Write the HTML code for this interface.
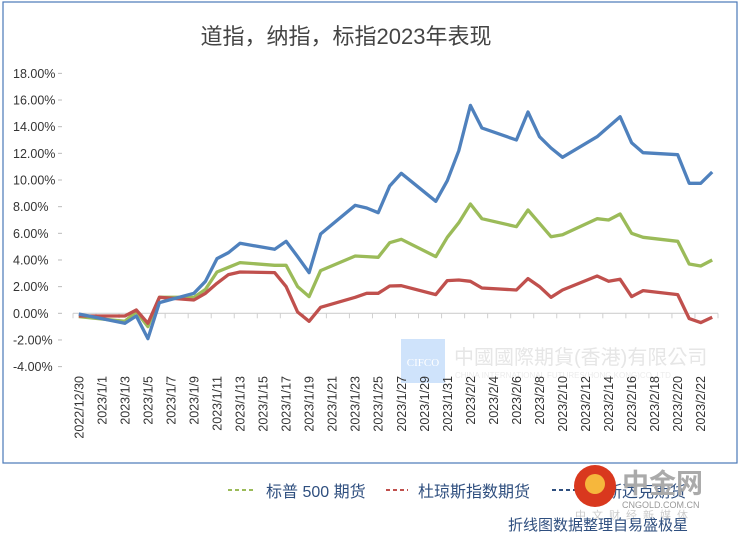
<!DOCTYPE html>
<html><head><meta charset="utf-8"><style>
body{margin:0;background:#fff;width:742px;height:536px;overflow:hidden;font-family:"Liberation Sans","Noto Sans CJK SC",sans-serif}
svg{display:block}
</style></head><body>
<svg id="c" width="742" height="536" xmlns="http://www.w3.org/2000/svg">
<rect x="3" y="2" width="734" height="461" fill="#fff" stroke="#4a78b8" stroke-width="1.2"/>
<text x="346" y="44" font-size="22" fill="#444" text-anchor="middle" font-family="Liberation Sans,Noto Sans CJK SC,sans-serif">道指，纳指，标指2023年表现</text>
<g>
<rect x="401" y="339" width="44" height="44" fill="#cfe3fb"/>
<text x="423" y="366" font-size="11" fill="#fff" text-anchor="middle" font-family="Liberation Serif,serif">CIFCO</text>
<text x="454" y="364" font-size="20" fill="#e6e6e6" font-family="Liberation Sans,Noto Sans CJK TC,sans-serif">中國國際期貨(香港)有限公司</text>
<text x="455" y="378" font-size="8" fill="#ececec">CHINA INTERNATIONAL FUTURES(HONG KONG)CO.,LTD.</text>
</g>
<g id="grid"></g><g id="lines"></g>
<g>
<line x1="228" y1="490" x2="256" y2="490" stroke="#9bbb59" stroke-width="2" stroke-dasharray="4,3"/>
<text x="266" y="497" font-size="16" fill="#2f4f7f">标普 500 期货</text>
<line x1="386" y1="490" x2="408" y2="490" stroke="#c0504d" stroke-width="2" stroke-dasharray="4,3"/>
<text x="418" y="497" font-size="16" fill="#2f4f7f">杜琼斯指数期货</text>
<line x1="552" y1="490" x2="580" y2="490" stroke="#2f4f7f" stroke-width="2" stroke-dasharray="4,3"/>
<text x="590" y="497" font-size="16" fill="#2f4f7f">纳斯达克期货</text>
</g>
<g>
<circle cx="595" cy="486" r="21" fill="#d9381e"/>
<circle cx="595" cy="484" r="10" fill="#f6b73c"/>
<text x="622" y="493" font-size="27" fill="#aaa" font-weight="bold">中金网</text>
<text x="622" y="508" font-size="9" fill="#999">CNGOLD.COM.CN</text>
<text x="575" y="519" font-size="11" fill="#ccc" letter-spacing="6">中文财经新媒体</text>
</g>
<text x="508" y="530" font-size="15" fill="#2f4f7f">折线图数据整理自易盛极星</text>
</svg>
<script>
const dateLabels=["2022/12/30","2023/1/1","2023/1/3","2023/1/5","2023/1/7","2023/1/9","2023/1/11","2023/1/13","2023/1/15","2023/1/17","2023/1/19","2023/1/21","2023/1/23","2023/1/25","2023/1/27","2023/1/29","2023/1/31","2023/2/2","2023/2/4","2023/2/6","2023/2/8","2023/2/10","2023/2/12","2023/2/14","2023/2/16","2023/2/18","2023/2/20","2023/2/22"];
const yTicks=[18,16,14,12,10,8,6,4,2,0,-2,-4];
const dayIdx=[0,4,5,6,7,10,11,12,13,14,17,18,19,20,21,24,25,26,27,28,31,32,33,34,35,38,39,40,41,42,45,46,47,48,49,52,53,54,55];
const nasdaq=[-0.05,-0.75,-0.2,-1.9,0.8,1.5,2.4,4.1,4.55,5.25,4.8,5.4,4.25,3.05,5.95,8.1,7.9,7.55,9.55,10.5,8.4,9.95,12.2,15.6,13.9,13.0,15.1,13.25,12.4,11.7,13.25,14.0,14.75,12.8,12.05,11.9,9.75,9.75,10.6];
const sp500=[-0.25,-0.6,0.12,-1.0,1.2,1.2,1.8,3.1,3.45,3.8,3.6,3.6,2.0,1.25,3.2,4.3,4.25,4.2,5.3,5.55,4.25,5.7,6.8,8.2,7.1,6.5,7.75,6.75,5.75,5.9,7.1,7.0,7.45,6.0,5.7,5.4,3.7,3.55,4.0];
const dow=[-0.2,-0.2,0.25,-0.75,1.2,1.0,1.5,2.25,2.9,3.1,3.05,2.0,0.1,-0.6,0.45,1.2,1.5,1.5,2.05,2.07,1.4,2.45,2.5,2.4,1.9,1.75,2.6,2.0,1.2,1.75,2.8,2.4,2.55,1.25,1.7,1.4,-0.4,-0.7,-0.3];
const NS="http://www.w3.org/2000/svg";
const X0=73,X1=718,ND=56,Y0=313.3,PPU=13.33;
const xs=d=>X0+(X1-X0)/ND*(d+0.5);
const ys=v=>Y0-v*PPU;
function mk(t,a,p){const e=document.createElementNS(NS,t);for(const k in a)e.setAttribute(k,a[k]);p.appendChild(e);return e;}
const g=document.getElementById('grid');
yTicks.forEach(v=>{
 const t=mk('text',{x:13,y:ys(v)+4.5,'font-size':12.5,fill:'#333'},g);
 t.textContent=v.toFixed(2)+'%';
 
 
 mk('line',{x1:58,x2:62,y1:ys(v),y2:ys(v),stroke:'#bbb'},g);
});
const ax=mk('line',{x1:X0,x2:X1,y1:Y0,y2:Y0,stroke:'#d0d0d0','stroke-width':1.2},g);


for(let i=0;i<=ND/2;i++){const x=X0+(X1-X0)/ND*2*i;mk('line',{x1:x,x2:x,y1:Y0,y2:Y0+5,stroke:'#d0d0d0'},g);}
dateLabels.forEach((s,i)=>{
 const x=xs(i*2)+4.5;
 const t=mk('text',{x:0,y:0,'font-size':12.5,fill:'#333','text-anchor':'end',transform:`translate(${x},376) rotate(-90)`},g);
 t.textContent=s;
 
 
});
const L=document.getElementById('lines');
[[sp500,'#9bbb59','sp500-line'],[dow,'#c0504d','dow-line'],[nasdaq,'#4f81bd','nasdaq-line']].forEach(([arr,c,n])=>{
 const pts=arr.map((v,i)=>xs(dayIdx[i]).toFixed(1)+','+ys(v).toFixed(1)).join(' ');
 const p=mk('polyline',{points:pts,fill:'none',stroke:c,'stroke-width':3.3,'stroke-linejoin':'round'},L);
 
 
});
</script>
</body></html>
